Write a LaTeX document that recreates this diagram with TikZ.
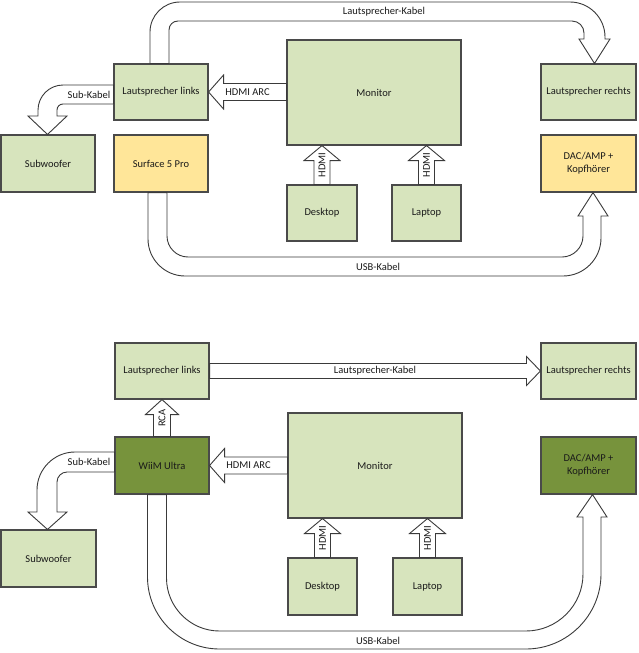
\documentclass[tikz,border=0pt]{standalone}
\usepackage{fontspec}
\setmainfont{Carlito}
\usetikzlibrary{calc}
\definecolor{boxfill}{HTML}{D7E4BD}
\definecolor{surffill}{HTML}{FFE699}
\definecolor{wiimfill}{HTML}{77933C}
\definecolor{boxline}{HTML}{4A4A4A}
\definecolor{arrowline}{HTML}{3A3A3A}
\definecolor{txt}{HTML}{1A1A1A}
\tikzset{
  box/.style={draw=boxline, line width=1.1pt, align=center, inner sep=0pt, font=\fontsize{10.5}{13}\selectfont, text=txt},
  arrowbody/.style={draw=arrowline, fill=white, line width=0.9pt},
  lbl/.style={font=\fontsize{10.5}{13}\selectfont, text=txt, inner sep=0pt}
}
% straight block arrow: from, tip, shaft half, head half, head length, label, label name
\newcommand{\blockarrow}[7]{%
  \draw[arrowbody] ($(#1)!#3!90:(#2)$) -- ($(#2)!#5!(#1)!#3!-90:(#1)$) -- ($(#2)!#5!(#1)!#4!-90:(#1)$) -- (#2)
    -- ($(#2)!#5!(#1)!#4!90:(#1)$) -- ($(#2)!#5!(#1)!#3!90:(#1)$) -- ($(#1)!#3!-90:(#2)$) -- cycle;
  \path (#1) -- (#2) node[midway, sloped, lbl] (#7) {#6};}
\begin{document}
\begin{tikzpicture}[x=1pt, y=-1pt]
  \useasboundingbox (0,0) rectangle (638,653);
  % upper setup
  \foreach \n/\x/\y/\w/\h/\c/\t in {lsl/161/92/94/56/boxfill/Lautsprecher links, sub/48/163.5/94/57/boxfill/Subwoofer,
      surf/161/163.5/94/57/surffill/Surface 5 Pro, mon/374/92.5/174/105/boxfill/Monitor,
      desk/322/213/70/56/boxfill/Desktop, lap/426.5/213/69/56/boxfill/Laptop,
      lsr/588.5/92/95/56/boxfill/Lautsprecher rechts, dac/588.5/163.5/95/57/surffill/{DAC/AMP +\\Kopfhörer}}{
    \node[box, fill=\c, minimum width=\w, minimum height=\h] (\n) at (\x,\y) {\t};
  }
  % lower setup
  \foreach \n/\x/\y/\w/\h/\c/\t in {lsl2/162/371/94/56/boxfill/Lautsprecher links, wiim/162/465.5/94/57/wiimfill/WiiM Ultra,
      sub2/48.5/558.5/95/57/boxfill/Subwoofer, mon2/375/465.5/174/105/boxfill/Monitor,
      desk2/322.5/586.5/69/57/boxfill/Desktop, lap2/427.5/586.5/69/57/boxfill/Laptop,
      lsr2/588.5/371/95/56/boxfill/Lautsprecher rechts, dac2/588.5/465.5/95/57/wiimfill/{DAC/AMP +\\Kopfhörer}}{
    \node[box, fill=\c, minimum width=\w, minimum height=\h] (\n) at (\x,\y) {\t};
  }
  % upper connectors
  \draw[arrowbody] ($(lsl.north)+(-11,0)$) -- (150,32) .. controls +(0,-16.5) and +(-16.5,0) .. (180,2)
    -- (570,2) .. controls +(19.25,0) and +(0,-19.25) .. (605,37) -- (605,39) -- (610,39) -- ($(lsr.north)+(6,0)$)
    -- (579,39) -- (584,39) -- (584,33) .. controls +(0,-6.6) and +(6.6,0) .. (572,21)
    -- (178,21) .. controls +(-5,0) and +(0,-5) .. (169,30) -- ($(lsl.north)+(8,0)$) -- cycle;
  \node[lbl] (lk1) at (384,11.5) {Lautsprecher-Kabel};
  \draw[arrowbody] ($(lsl.west)+(0,-7)$) -- (63,85) .. controls +(-13.75,0) and +(0,-13.75) .. (38,110) -- (38,116)
    -- (28,116) -- ($(sub.north)+(-0.5,0)$) -- (67,116) -- (57,116) -- (57,110) .. controls +(0,-3.3) and +(-3.3,0) .. (63,104)
    -- ($(lsl.west)+(0,12)$) -- cycle;
  \node[lbl] (sk1) at (89,94.5) {Sub-Kabel};
  \blockarrow{mon.west|-lsl.east}{lsl.east}{8.5pt}{17pt}{15pt}{HDMI ARC}{ha1}
  \blockarrow{desk.north}{desk.north|-mon.south}{8pt}{18pt}{15pt}{HDMI}{hd1}
  \blockarrow{lap.north}{lap.north|-mon.south}{8pt}{18pt}{15pt}{HDMI}{hl1}
  \draw[arrowbody] ($(surf.south)+(-13,0)$) -- (148,239) .. controls +(0,20.35) and +(-20.35,0) .. (185,276)
    -- (563,276) .. controls +(20.9,0) and +(0,20.9) .. (601,238) -- (601,216) -- (608,216) -- ($(dac.south)+(4.5,0)$)
    -- (578,216) -- (583,216) -- (583,236) .. controls +(0,11.5) and +(11.5,0) .. (562,257)
    -- (188,257) .. controls +(-11.5,0) and +(0,11.5) .. (167,236) -- ($(surf.south)+(6,0)$) -- cycle;
  \node[lbl] (uk1) at (378,267) {USB-Kabel};
  % lower connectors
  \blockarrow{lsl2.east}{lsr2.west}{7.5pt}{14.5pt}{14pt}{Lautsprecher-Kabel}{lk2}
  \blockarrow{wiim.north}{lsl2.south}{8.5pt}{16.5pt}{15pt}{RCA}{rca}
  \draw[arrowbody] ($(wiim.west)+(0,-13.5)$) -- (75,452) .. controls +(-20.9,0) and +(0,-20.9) .. (37,490) -- (37,512)
    -- (28,512) -- ($(sub2.north)+(-1,0)$) -- (67,512) -- (57,512) -- (57,482) .. controls +(0,-5.5) and +(-5.5,0) .. (67,472)
    -- ($(wiim.west)+(0,6.5)$) -- cycle;
  \node[lbl] (sk2) at (89,462) {Sub-Kabel};
  \blockarrow{mon2.west|-wiim.east}{wiim.east}{8.5pt}{17pt}{15pt}{HDMI ARC}{ha2}
  \blockarrow{desk2.north}{desk2.north|-mon2.south}{8pt}{18pt}{15pt}{HDMI}{hd2}
  \blockarrow{lap2.north}{lap2.north|-mon2.south}{8pt}{18pt}{15pt}{HDMI}{hl2}
  \draw[arrowbody] ($(wiim.south)+(-14.5,0)$) -- (147.5,577) .. controls +(0,39.6) and +(-39.6,0) .. (219.5,649)
    -- (526,649) .. controls +(41.25,0) and +(0,41.25) .. (601,574) -- (601,517) -- (607,517) -- ($(dac2.south)+(4,0)$)
    -- (577,517) -- (583,517) -- (583,574) .. controls +(0,31.35) and +(31.35,0) .. (526,631)
    -- (219.5,631) .. controls +(-29.15,0) and +(0,29.15) .. (166.5,578) -- ($(wiim.south)+(4.5,0)$) -- cycle;
  \node[lbl] (uk2) at (378,641) {USB-Kabel};
\end{tikzpicture}
\end{document}
